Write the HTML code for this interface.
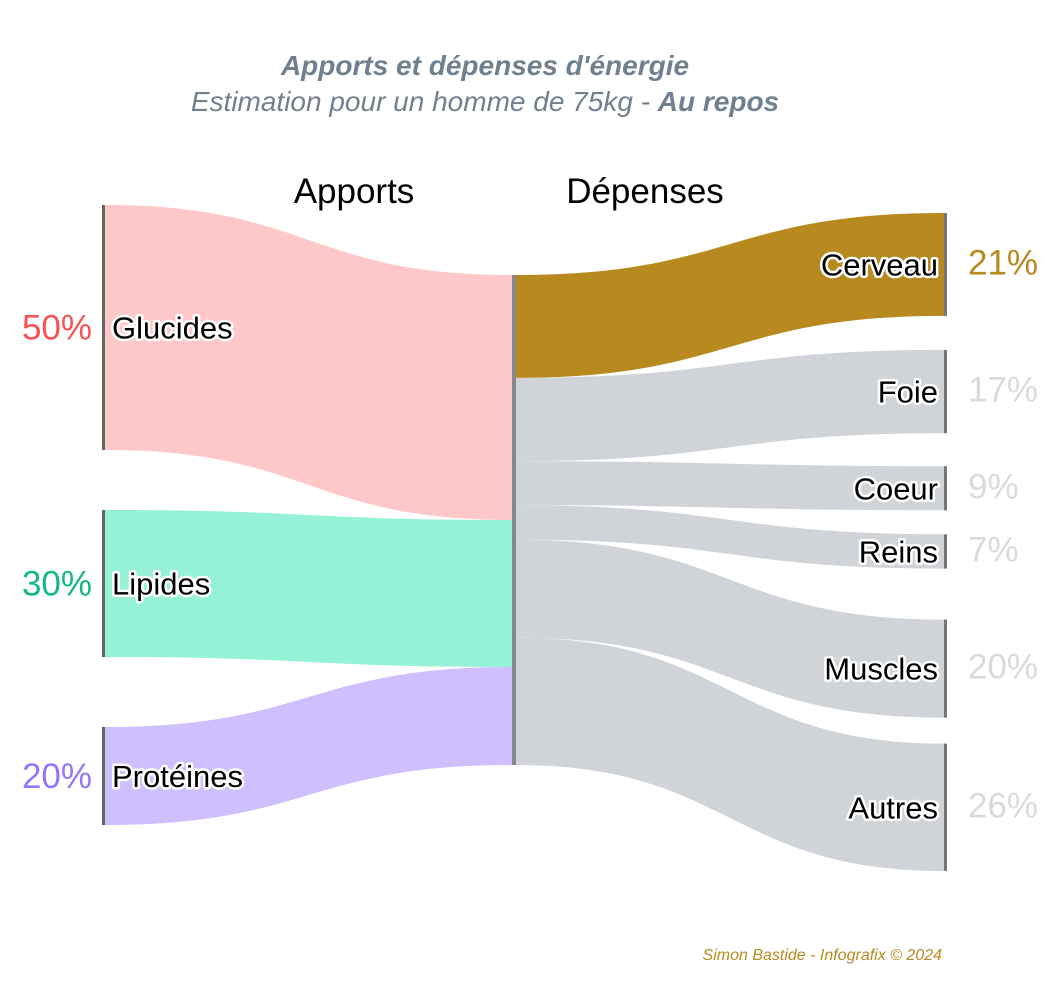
<!DOCTYPE html>
<html><head><meta charset="utf-8"><style>
html,body{margin:0;padding:0;background:#fff}
svg{display:block}
text{font-family:"Liberation Sans",sans-serif}
.halo{paint-order:stroke;stroke:#fff;stroke-width:5px;stroke-linejoin:round;fill:#000}
</style></head><body>
<svg id="chart" width="1063" height="1000" viewBox="0 0 1063 1000" xmlns="http://www.w3.org/2000/svg">
<text x="485" y="75" text-anchor="middle" font-size="28" font-weight="bold" font-style="italic" fill="#708090">Apports et dépenses d'énergie</text>
<text x="485" y="111" text-anchor="middle" font-size="28" font-style="italic" fill="#708090">Estimation pour un homme de 75kg - <tspan font-weight="bold">Au repos</tspan></text>
<text x="354" y="203" text-anchor="middle" font-size="35" fill="#000">Apports</text>
<text x="645" y="203" text-anchor="middle" font-size="35" fill="#000">Dépenses</text>
<g id="links"></g><g id="nodes"></g><g id="labels"></g>
<text x="942" y="960" text-anchor="end" font-size="16" font-style="italic" fill="#b8891f">Simon Bastide - Infografix © 2024</text>
</svg>
<script>
const sourceNames=["Glucides","Lipides","Protéines"];
const sourceValues=[50,30,20];
const targetNames=["Cerveau","Foie","Coeur","Reins","Muscles","Autres"];
const targetValues=[21,17,9,7,20,26];
const sourceColors=["#ffc8c8","#96f2d7","#d0bfff"];
const sourcePctColors=["#fa5252","#12b886","#9775fa"];
const targetColors=["#b8891f","#d0d4d9","#d0d4d9","#d0d4d9","#d0d4d9","#d0d4d9"];
const targetPctColors=["#b8891f","#d8dadd","#d8dadd","#d8dadd","#d8dadd","#d8dadd"];
const NS="http://www.w3.org/2000/svg";
const scale=4.9;
const leftX=105,midX=512,midX2=516,rightX=944;
const leftGaps=[0,60,70],leftStart=205;
const rightGaps=[0,34,33,24,51,26],rightStart=213;
const midStart=275;
function h(v){return v*scale;}
function mk(tag,attrs,parent){const e=document.createElementNS(NS,tag);for(const k in attrs)e.setAttribute(k,attrs[k]);parent.appendChild(e);return e;}
const L=document.getElementById('links'),N=document.getElementById('nodes'),T=document.getElementById('labels');
function band(x0,y0a,y0b,x1,y1a,y1b){const m=(x0+x1)/2;return `M${x0},${y0a}C${m},${y0a} ${m},${y1a} ${x1},${y1a}L${x1},${y1b}C${m},${y1b} ${m},${y0b} ${x0},${y0b}Z`;}
let y=leftStart,my=midStart;
sourceValues.forEach((v,i)=>{
  y+=leftGaps[i];const y0=y,y1=y+h(v);
  const p=mk('path',{d:band(leftX,y0,y1,midX,my,my+h(v)),fill:sourceColors[i]},L);
  
  
  const r=mk('rect',{x:102,y:y0,width:3,height:h(v),fill:'#666'},N);
  
  
  const c=(y0+y1)/2;
  const t=mk('text',{x:112,y:c+11,'font-size':31,class:'halo'},T);t.textContent=sourceNames[i];
  
  
  const pc=mk('text',{x:92,y:c+12,'font-size':35,'text-anchor':'end',fill:sourcePctColors[i]},T);pc.textContent=v+'%';
  
  
  y=y1;my+=h(v);
});
const total=sourceValues.reduce((a,b)=>a+b,0);
const mr=mk('rect',{x:midX,y:midStart,width:midX2-midX,height:h(total),fill:'#888'},N);


y=rightStart;my=midStart;
targetValues.forEach((v,i)=>{
  y+=rightGaps[i];const y0=y,y1=y+h(v);
  const p=mk('path',{d:band(midX2,my,my+h(v),rightX,y0,y1),fill:targetColors[i]},L);
  
  
  const r=mk('rect',{x:rightX,y:y0,width:3,height:h(v),fill:'#777'},N);
  
  
  const c=(y0+y1)/2;
  const t=mk('text',{x:938,y:c+11,'font-size':31,'text-anchor':'end',class:'halo'},T);t.textContent=targetNames[i];
  
  
  const pc=mk('text',{x:968,y:c+10,'font-size':35,fill:targetPctColors[i]},T);pc.textContent=v+'%';
  
  
  y=y1;my+=h(v);
});
</script>
</body></html>
